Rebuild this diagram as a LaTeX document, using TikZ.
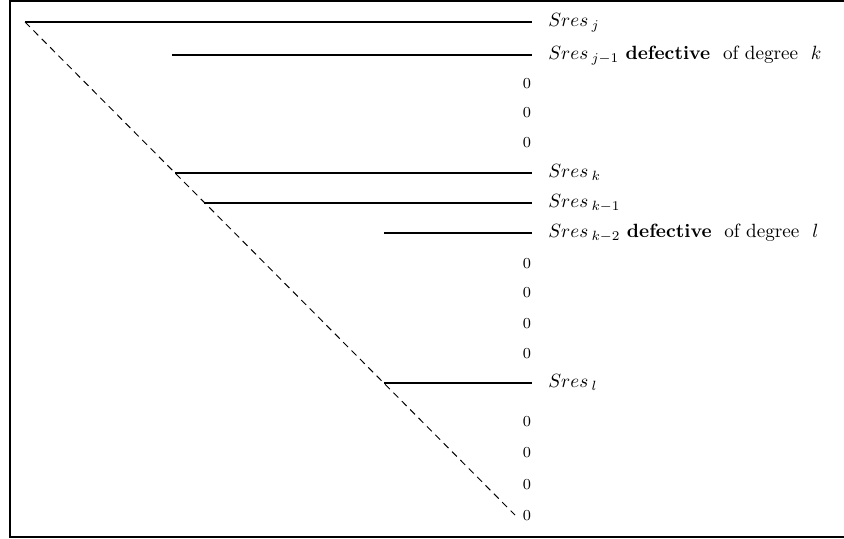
\documentclass[tikz,border=0pt]{standalone}
\begin{document}
\begin{tikzpicture}[x=0.522pt,y=-0.522pt,
  rowline/.style={line width=1.05pt},
  diag/.style={dash pattern=on 3.6pt off 2.6pt, line width=0.5pt},
  lab/.style={anchor=mid west, inner sep=0pt},
  zero/.style={anchor=mid, inner sep=0pt, font=\footnotesize}]
\useasboundingbox (0,0) rectangle (844,538);
% open frame (right side runs off the page)
\coordinate (fTR) at (870,1);
\coordinate (fTL) at (10,1);
\coordinate (fBL) at (10,537);
\coordinate (fBR) at (870,537);
\draw[line width=0.8pt] (fTR) -- (fTL) -- (fBL) -- (fBR);

% diagonal
\coordinate (dTop) at (25,22);
\coordinate (dBot) at (515,515);
\draw[diag] (dTop) -- (dBot);

% subresultant rows: left end on the diagonal, right end, label
\coordinate (jL) at (25,22);   \coordinate (jR) at (532,22);
\coordinate (j1L) at (172,55); \coordinate (j1R) at (532,55);
\coordinate (kL) at (175,173); \coordinate (kR) at (532,173);
\coordinate (k1L) at (204,203); \coordinate (k1R) at (532,203);
\coordinate (k2L) at (384,233); \coordinate (k2R) at (532,233);
\coordinate (lL) at (384,383); \coordinate (lR) at (532,383);

\foreach \r in {j,j1,k,k1,k2,l}{\draw[rowline] (\r L) -- (\r R);}

\node[lab] (tj)  at (548,22)  {$Sres\,_{j}$};
\node[lab] (tj1) at (548,55)  {$Sres\,_{j-1}$ \textbf{defective} \ of degree \ $k$};
\node[lab] (tk)  at (548,173) {$Sres\,_{k}$};
\node[lab] (tk1) at (548,203) {$Sres\,_{k-1}$};
\node[lab] (tk2) at (548,233) {$Sres\,_{k-2}$ \textbf{defective} \ of degree \ $l$};
\node[lab] (tl)  at (548,383) {$Sres\,_{l}$};

% zero rows
\node[zero] (z1) at (527,84) {0};
\node[zero] (z2) at (527,113) {0};
\node[zero] (z3) at (527,143) {0};
\node[zero] (z4) at (527,264) {0};
\node[zero] (z5) at (527,293) {0};
\node[zero] (z6) at (527,324) {0};
\node[zero] (z7) at (527,354) {0};
\node[zero] (z8) at (527,422) {0};
\node[zero] (z9) at (527,453) {0};
\node[zero] (z10) at (527,485) {0};
\node[zero] (z11) at (527,516) {0};
\end{tikzpicture}
\end{document}
